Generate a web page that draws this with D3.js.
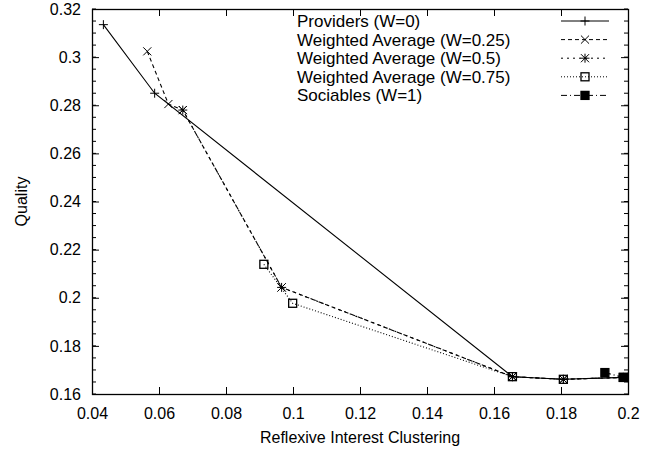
<!DOCTYPE html>
<html lang="en">
<head>
    <meta charset="UTF-8">
    <title>Quality vs Reflexive Interest Clustering</title>
    <style>
        body { margin: 0; background: #fff; }
        svg { display: block; font-family: "Liberation Sans", Arial, sans-serif; }
        .tick text { font-size: 16px; fill: #000; }
    </style>
</head>
<body>
    <div id="chart"></div>
    <script src="https://d3js.org/d3.v7.min.js"></script>
    <script>
        const w = 663;
        const h = 451;

        // ticks
        const xTicks = [0.04, 0.06, 0.08, 0.1, 0.12, 0.14, 0.16, 0.18, 0.2];
        const yTicks = [0.16, 0.18, 0.2, 0.22, 0.24, 0.26, 0.28, 0.3, 0.32];

        // series: [clustering, quality]
        const providers = [[0.0434, 0.3135], [0.0587, 0.2850], [0.1655, 0.1672], [0.1807, 0.1661], [0.1986, 0.1669]];
        const weighted025 = [[0.0565, 0.3024], [0.0628, 0.2805], [0.0671, 0.2780], [0.0966, 0.2043], [0.1655, 0.1672], [0.1807, 0.1661], [0.1986, 0.1669]];
        const weighted05 = [[0.0671, 0.2780], [0.0966, 0.2043], [0.1655, 0.1672], [0.1807, 0.1661], [0.1986, 0.1669]];
        const weighted075 = [[0.0913, 0.2139], [0.0999, 0.1977], [0.1655, 0.1672], [0.1807, 0.1661], [0.1986, 0.1669]];
        const sociables = [[0.1931, 0.1689], [0.1986, 0.1669]];

        const seriesNames = ['Providers (W=0)', 'Weighted Average (W=0.25)', 'Weighted Average (W=0.5)', 'Weighted Average (W=0.75)', 'Sociables (W=1)'];
        const seriesData = [providers, weighted025, weighted05, weighted075, sociables];
        const dashes = [null, '4,3', '2,4', '1,2', '6,3,1,3'];
        const markers = ['plus', 'cross', 'star', 'box', 'filledBox'];

        const margin = {top: 9, right: 35, bottom: 57, left: 92};

        const x = d3.scaleLinear().domain([0.04, 0.2]).range([margin.left, w - margin.right]);
        const y = d3.scaleLinear().domain([0.16, 0.32]).range([h - margin.bottom, margin.top]);

        const fmt = v => String(+v.toFixed(3));

        const svg = d3.select('#chart')
            .append('svg')
            .attr('width', w)
            .attr('height', h);

        // y minor ticks every 0.005 (left and right, inward)
        const yMinor = d3.range(0.16, 0.3201, 0.005).map(v => +v.toFixed(3));

        const axisLeft = d3.axisLeft(y).tickValues(yTicks).tickFormat(fmt).tickSizeInner(-7).tickSizeOuter(0).tickPadding(11);
        const axisRight = d3.axisRight(y).tickValues(yTicks).tickFormat('').tickSizeInner(-7).tickSizeOuter(0);
        const axisBottom = d3.axisBottom(x).tickValues(xTicks).tickFormat(fmt).tickSizeInner(-7).tickSizeOuter(0).tickPadding(14);
        const axisTop = d3.axisTop(x).tickValues(xTicks).tickFormat('').tickSizeInner(-7).tickSizeOuter(0);

        const gl = svg.append('g').attr('transform', `translate(${margin.left},0)`).call(axisLeft);
        const gr = svg.append('g').attr('transform', `translate(${w - margin.right},0)`).call(axisRight);
        const gb = svg.append('g').attr('transform', `translate(0,${h - margin.bottom})`).call(axisBottom);
        const gt = svg.append('g').attr('transform', `translate(0,${margin.top})`).call(axisTop);
        [gl, gr, gb, gt].forEach(g => {
            g.select('.domain').remove();
            g.selectAll('.tick line').attr('stroke', '#000');
            g.selectAll('.tick text').style('font-family', '"Liberation Sans", Arial, sans-serif');
        });

        svg.append('g')
            .selectAll('line')
            .data(yMinor)
            .enter()
            .append('line')
            .attr('x1', margin.left).attr('x2', margin.left + 4)
            .attr('y1', d => y(d)).attr('y2', d => y(d))
            .attr('stroke', '#000');
        svg.append('g')
            .selectAll('line')
            .data(yMinor)
            .enter()
            .append('line')
            .attr('x1', w - margin.right).attr('x2', w - margin.right - 4)
            .attr('y1', d => y(d)).attr('y2', d => y(d))
            .attr('stroke', '#000');

        // frame
        svg.append('rect')
            .attr('x', margin.left + 0.5)
            .attr('y', margin.top + 0.5)
            .attr('width', w - margin.left - margin.right)
            .attr('height', h - margin.top - margin.bottom)
            .attr('fill', 'none')
            .attr('stroke', '#000')
            .attr('stroke-width', 1.3);

        // axis titles
        svg.append('text')
            .attr('x', (margin.left + w - margin.right) / 2)
            .attr('y', 443)
            .attr('text-anchor', 'middle')
            .attr('font-size', 16)
            .text('Reflexive Interest Clustering');
        svg.append('text')
            .attr('transform', `translate(27,${(margin.top + h - margin.bottom) / 2}) rotate(-90)`)
            .attr('text-anchor', 'middle')
            .attr('font-size', 16)
            .text('Quality');

        const drawMarker = (g, type, cx, cy) => {
            const s = 4.5;
            if (type === 'plus' || type === 'star') {
                g.append('path').attr('d', `M${cx - s},${cy}H${cx + s}M${cx},${cy - s}V${cy + s}`)
                    .attr('stroke', '#000').attr('fill', 'none');
            }
            if (type === 'cross' || type === 'star') {
                const c = s * 0.9;
                g.append('path').attr('d', `M${cx - c},${cy - c}L${cx + c},${cy + c}M${cx - c},${cy + c}L${cx + c},${cy - c}`)
                    .attr('stroke', '#000').attr('fill', 'none');
            }
            if (type === 'box' || type === 'filledBox') {
                const b = 4;
                g.append('rect').attr('x', cx - b).attr('y', cy - b).attr('width', 2 * b).attr('height', 2 * b)
                    .attr('stroke', '#000').attr('stroke-width', 1.3)
                    .attr('fill', type === 'filledBox' ? '#000' : 'none');
            }
        };

        const line = d3.line().x(d => x(d[0])).y(d => y(d[1]));

        seriesData.forEach((data, i) => {
            const g = svg.append('g').attr('class', 'series');
            g.append('path')
                .datum(data)
                .attr('d', line)
                .attr('fill', 'none')
                .attr('stroke', '#000')
                .attr('stroke-width', 1.1)
                .attr('stroke-dasharray', dashes[i]);
            data.forEach(d => drawMarker(g, markers[i], x(d[0]), y(d[1])));
        });

        // legend
        const legend = svg.append('g').attr('id', 'legend');
        seriesNames.forEach((name, i) => {
            const ly = 21 + i * 18.6;
            legend.append('text')
                .attr('x', 297)
                .attr('y', ly + 6)
                .attr('font-size', 17)
                .text(name);
            legend.append('line')
                .attr('x1', 561).attr('x2', 609)
                .attr('y1', ly).attr('y2', ly)
                .attr('stroke', '#000')
                .attr('stroke-dasharray', dashes[i]);
            drawMarker(legend, markers[i], 585, ly);
        });
    </script>
</body>
</html>
